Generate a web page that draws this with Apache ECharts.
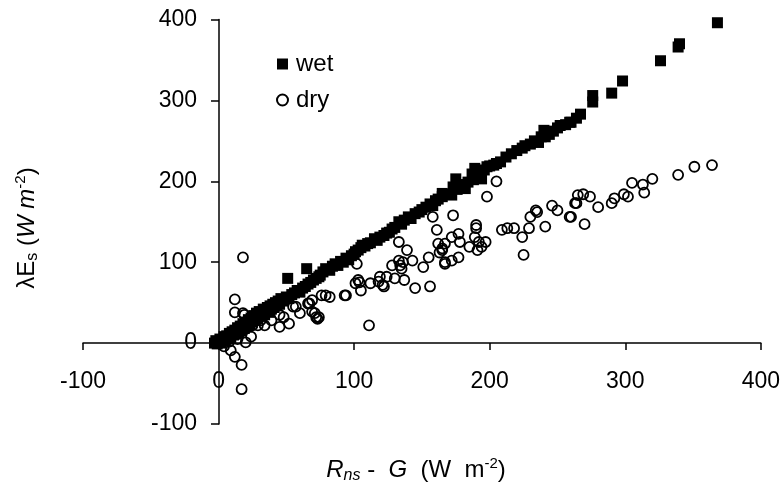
<!DOCTYPE html>
<html>
<head>
<meta charset="utf-8">
<script src="https://cdn.jsdelivr.net/npm/echarts@6/dist/echarts.min.js"></script>
<style>html,body{margin:0;padding:0;background:#fff}#c{width:783px;height:488px}</style>
</head>
<body>
<div id="c"></div>
<script>
// Tick labels
var xTicks = [-100, 0, 100, 200, 300, 400];
var yTicks = [-100, 0, 100, 200, 300, 400];
var seriesNames = ['wet', 'dry'];

// wet series: [Rns - G, λEs]
var wetX = [-3,-2,-1,0,1,2,3,4,5,6,7,8,9,10,11,12,13,14,15,16,17,18,19,20,21,22,23,24,25,26,27,28,29,30,31,32,33,34,35,36,37,38,39,40,41,42,43,44,45,46,48,50,51,52,54,56,58,60,62,64,65,66,68,70,72,74,75,77,79,82,84,86,88,90,92,94,96,98,100,101,103,105,106,108,110,112,115,117,119,122,124,126,128,130,133,135,137,140,142,145,148,150,153,156,158,160,162,165,165,168,172,173,175,176,178,182,184,187,188,189,191,194,196,198,200,203,205,208,212,216,220,224,226,230,233,236,238,240,241,244,247,250,252,256,259,260,264,267,276,276,290,298,326,339,340,368];
var wetY = [0,3,-1,2,5,0,4,8,3,9,5,12,7,14,10,16,11,19,13,21,15,24,18,26,20,29,23,31,26,34,28,37,30,39,33,36,42,35,40,44,38,46,42,48,44,50,46,52,48,55,52,57,80,55,60,62,65,63,68,70,92,73,75,78,80,82,84,88,92,90,95,98,96,101,100,105,103,108,110,113,115,118,121,120,123,124,129,127,131,133,136,137,141,143,150,147,152,156,154,160,162,165,168,172,170,176,178,181,185,184,183,193,203,190,196,191,199,209,202,216,212,203,214,218,219,220,222,224,230,234,238,241,244,246,250,248,255,263,255,258,262,266,269,270,273,273,278,283,298,306,309,324,349,366,370,396];

// dry series
var dryX = [18,12,12,18,17,17,12,9,4,20,24,19,2,6,8,14,10,15,25,29,31,34,39,45,45,48,52,55,57,60,66,67,69,69,71,72,73,74,76,79,82,93,94,101,102,103,104,105,111,112,118,119,121,122,124,128,130,133,133,134,135,136,137,139,143,145,151,155,156,158,161,162,163,165,165,167,167,167,172,172,173,177,177,178,185,189,190,190,191,192,194,197,198,205,209,213,218,224,225,229,230,234,235,241,246,250,259,260,263,264,265,269,270,274,280,290,292,299,302,305,313,314,320,339,351,364];
var dryY = [106,54,38,37,-27,-57,-17,-9,-4,1,8,35,3,8,2,5,12,18,22,22,28,22,28,20,35,32,24,45,45,37,49,49,53,39,37,32,30,32,59,59,57,59,59,74,98,78,75,65,22,74,76,82,72,70,82,96,80,125,102,96,92,100,78,115,102,68,94,106,70,156,140,123,112,117,115,98,123,100,131,102,158,135,106,125,119,131,142,146,115,125,119,125,181,200,140,142,142,131,109,142,156,164,162,144,170,164,156,156,173,173,183,184,147,181,168,173,179,184,181,198,196,186,203,208,218,220];

function pairs(xs, ys){ var out=[]; for (var i=0;i<xs.length;i++) out.push([xs[i], ys[i]]); return out; }

var FONT = '"Liberation Sans", Arial, sans-serif';
var chart = echarts.init(document.getElementById('c'), null, {renderer:'canvas'});
chart.setOption({
  animation: false,
  backgroundColor: '#fff',
  grid: { left: 83, right: 20, top: 19.5, bottom: 64, containLabel: false },
  xAxis: {
    type: 'value', min: xTicks[0], max: xTicks[xTicks.length-1], interval: 100,
    position: 'bottom', offset: -81,
    splitLine: { show: false },
    axisLine: { onZero: false, lineStyle: { color: '#000', width: 1.5 } },
    axisTick: { inside: false, length: 7, lineStyle: { color: '#000', width: 1.5 } },
    axisLabel: { margin: 27, color: '#000', fontSize: 23, fontFamily: FONT }
  },
  yAxis: {
    type: 'value', min: yTicks[0], max: yTicks[yTicks.length-1], interval: 100,
    position: 'left', offset: -136,
    splitLine: { show: false },
    axisLine: { onZero: false, lineStyle: { color: '#000', width: 1.5 } },
    axisTick: { inside: false, length: 8, lineStyle: { color: '#000', width: 1.5 } },
    axisLabel: { margin: 22, color: '#000', fontSize: 23, fontFamily: FONT }
  },
  legend: {
    orient: 'vertical', left: 271, top: 47, itemGap: 12,
    itemWidth: 11, itemHeight: 11,
    textStyle: { fontSize: 24, fontFamily: FONT, color: '#000', padding: [0,0,0,3] },
    data: [
      { name: seriesNames[0], icon: 'rect' },
      { name: seriesNames[1], icon: 'circle' }
    ]
  },
  series: [
    {
      name: seriesNames[0], type: 'scatter', symbol: 'rect', symbolSize: 11,
      itemStyle: { color: '#000', opacity: 1 },
      data: pairs(wetX, wetY), z: 2
    },
    {
      name: seriesNames[1], type: 'scatter', symbol: 'circle', symbolSize: 10,
      itemStyle: { color: 'rgba(255,255,255,0)', borderColor: '#000', borderWidth: 1.8, opacity: 1 },
      data: pairs(dryX, dryY), z: 3
    }
  ],
  graphic: [
    {
      type: 'text', x: 416, y: 470,
      style: {
        text: '{i|R}{sub|ns}{n| -  }{i|G}{n|  (W  m}{sup|-2}{n|)}',
        align: 'center', verticalAlign: 'middle',
        rich: {
          i: { fontSize: 24, fontStyle: 'italic', fontFamily: FONT, color: '#000', lineHeight: 28 },
          n: { fontSize: 24, fontFamily: FONT, color: '#000', lineHeight: 28 },
          sub: { fontSize: 16, fontStyle: 'italic', fontFamily: FONT, color: '#000', verticalAlign: 'bottom', lineHeight: 16 },
          sup: { fontSize: 15, fontFamily: FONT, color: '#000', verticalAlign: 'top', lineHeight: 15 }
        }
      }
    },
    {
      type: 'text', x: 27, y: 228, rotation: Math.PI/2,
      style: {
        text: '{n|λE}{s|s}{n| (}{i|W m}{sup|-2}{n|)}',
        align: 'center', verticalAlign: 'middle',
        rich: {
          i: { fontSize: 24, fontStyle: 'italic', fontFamily: FONT, color: '#000', lineHeight: 28 },
          n: { fontSize: 24, fontFamily: FONT, color: '#000', lineHeight: 28 },
          s: { fontSize: 16, fontFamily: FONT, color: '#000', verticalAlign: 'bottom', lineHeight: 22 },
          sup: { fontSize: 15, fontFamily: FONT, color: '#000', verticalAlign: 'top', lineHeight: 15 }
        }
      }
    }
  ]
});
</script>
</body>
</html>
